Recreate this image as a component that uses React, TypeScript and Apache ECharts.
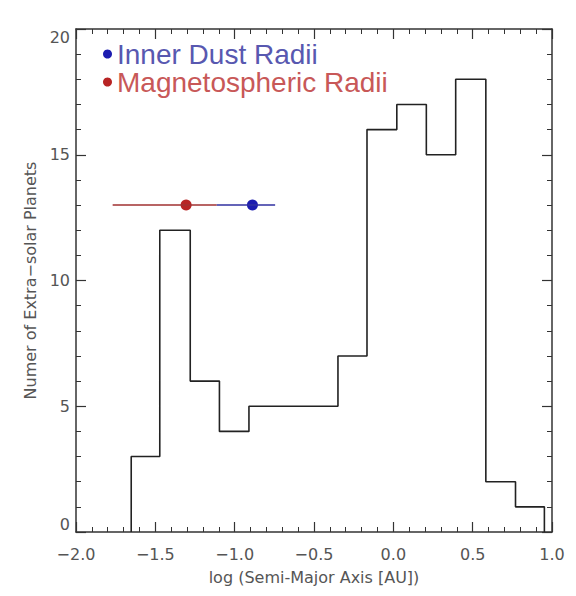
import React, { useEffect, useRef } from "react";
import * as echarts from "echarts";

// Histogram bin edges (log a [AU]) and counts
const binEdges = [-1.652, -1.472, -1.28, -1.096, -0.91, -0.722, -0.536, -0.349, -0.166, 0.022, 0.208, 0.393, 0.583, 0.77, 0.952];
const binCounts = [3, 12, 6, 4, 5, 5, 5, 7, 16, 17, 15, 18, 2, 1];

// Radii points with horizontal ranges
const innerDust = { name: "Inner Dust Radii", center: -0.888, low: -1.113, high: -0.745, y: 13 };
const magneto = { name: "Magnetospheric Radii", center: -1.306, low: -1.769, high: -1.113, y: 13 };

const xTicks = { min: -2, max: 1, interval: 0.5 };
const yTicks = { min: 0, max: 20, interval: 5 };

const LEGEND_FONT = "'Liberation Sans', Arial, sans-serif";
const AXIS_FONT = "'DejaVu Sans', sans-serif";
const AXIS_COLOR = "#333";

export default function App() {
  const ref = useRef<HTMLDivElement>(null);
  useEffect(() => {
    if (!ref.current) return;
    const chart = echarts.init(ref.current, undefined, { renderer: "svg" });

    const histData: number[][] = [[binEdges[0], 0]];
    binCounts.forEach((c, i) => histData.push([binEdges[i], c]));
    histData.push([binEdges[binEdges.length - 1], 0]);

    const axisLine = { show: true, onZero: false, lineStyle: { color: AXIS_COLOR, width: 1.5 } };
    const axisTick = { show: true, inside: true, length: 10, lineStyle: { color: AXIS_COLOR, width: 1.2 } };
    const minorTick = { show: true, splitNumber: 5, length: 5, lineStyle: { color: AXIS_COLOR, width: 1 } };
    const fmt = (v: number, d: number) => (d ? v.toFixed(d) : String(v)).replace("-", "\u2212");

    chart.setOption({
      animation: false,
      backgroundColor: "#ffffff",
      textStyle: { fontFamily: AXIS_FONT },
      grid: { left: 76, right: 24, top: 29, bottom: 64, containLabel: false },
      legend: {
        show: true,
        orient: "vertical",
        left: 103,
        top: 40,
        padding: 0,
        itemGap: 0,
        itemWidth: 9,
        itemHeight: 9,
        icon: "circle",
        selectedMode: false,
        data: [
          { name: innerDust.name, textStyle: { color: "#5858b0" } },
          { name: magneto.name, textStyle: { color: "#c85858" } },
        ],
        textStyle: { fontSize: 28, lineHeight: 26, fontFamily: LEGEND_FONT },
      },
      xAxis: [
        {
          type: "value",
          position: "bottom",
          min: xTicks.min,
          max: xTicks.max,
          interval: xTicks.interval,
          axisLine,
          axisTick,
          minorTick,
          splitLine: { show: false },
          axisLabel: { fontSize: 16, color: "#555", margin: 14, fontFamily: AXIS_FONT, formatter: (v: number) => fmt(v, 1) },
          name: "log (Semi-Major Axis [AU])",
          nameLocation: "middle",
          nameGap: 37,
          nameTextStyle: { fontSize: 16, color: "#555", fontFamily: AXIS_FONT },
        },
        {
          type: "value",
          position: "top",
          min: xTicks.min,
          max: xTicks.max,
          interval: xTicks.interval,
          axisLine,
          axisTick,
          minorTick,
          splitLine: { show: false },
          axisLabel: { show: false },
        },
      ],
      yAxis: [
        {
          type: "value",
          position: "left",
          min: yTicks.min,
          max: yTicks.max,
          interval: yTicks.interval,
          axisLine,
          axisTick,
          minorTick,
          splitLine: { show: false },
          axisLabel: {
            fontSize: 16,
            color: "#555",
            margin: 6,
            fontFamily: AXIS_FONT,
            verticalAlignMinLabel: "bottom",
            verticalAlignMaxLabel: "top",
            formatter: (v: number) => fmt(v, 0),
          },
          name: "Numer of Extra\u2212solar Planets",
          nameLocation: "middle",
          nameGap: 35,
          nameRotate: 90,
          nameTextStyle: { fontSize: 16, color: "#555", fontFamily: AXIS_FONT },
        },
        {
          type: "value",
          position: "right",
          min: yTicks.min,
          max: yTicks.max,
          interval: yTicks.interval,
          axisLine,
          axisTick,
          minorTick,
          splitLine: { show: false },
          axisLabel: { show: false },
        },
      ],
      series: [
        {
          type: "line",
          name: "histogram",
          step: "end",
          xAxisIndex: 0,
          yAxisIndex: 0,
          symbol: "none",
          data: histData,
          lineStyle: { color: "#222", width: 1.6 },
          silent: true,
        },
        {
          type: "line",
          name: "magnetoRange",
          xAxisIndex: 0,
          yAxisIndex: 0,
          symbol: "none",
          data: [[magneto.low, magneto.y], [magneto.high, magneto.y]],
          lineStyle: { color: "#a03030", width: 1.4 },
          silent: true,
        },
        {
          type: "line",
          name: "innerRange",
          xAxisIndex: 0,
          yAxisIndex: 0,
          symbol: "none",
          data: [[innerDust.low, innerDust.y], [innerDust.high, innerDust.y]],
          lineStyle: { color: "#3030a0", width: 1.4 },
          silent: true,
        },
        {
          type: "scatter",
          name: magneto.name,
          xAxisIndex: 0,
          yAxisIndex: 0,
          symbol: "circle",
          symbolSize: 11,
          data: [[magneto.center, magneto.y]],
          itemStyle: { color: "#b82424", opacity: 1 },
        },
        {
          type: "scatter",
          name: innerDust.name,
          xAxisIndex: 0,
          yAxisIndex: 0,
          symbol: "circle",
          symbolSize: 11,
          data: [[innerDust.center, innerDust.y]],
          itemStyle: { color: "#1c1cb0", opacity: 1 },
        },
      ],
    });
    return () => chart.dispose();
  }, []);
  return (
    <div
      ref={ref}
      style={{ position: "absolute", left: 0, top: 0, width: 576, height: 596, background: "#fff" }}
    />
  );
}
